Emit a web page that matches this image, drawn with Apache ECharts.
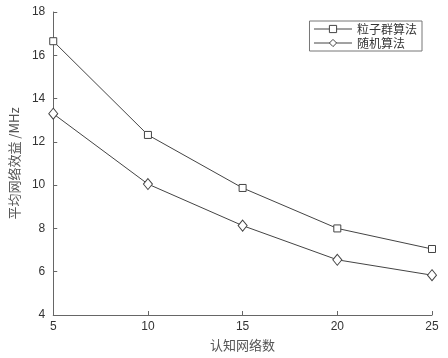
<!DOCTYPE html>
<html><head><meta charset="utf-8">
<script src="https://cdn.jsdelivr.net/npm/echarts@6/dist/echarts.min.js"></script>
<style>html,body{margin:0;padding:0;background:#fff}#c{width:448px;height:358px}</style>
</head><body><div id="c"></div>
<script>
var categories = [5, 10, 15, 20, 25];
var psoValues = [16.65, 12.32, 9.87, 8.0, 7.05];
var randomValues = [13.3, 10.05, 8.13, 6.55, 5.84];
var seriesNames = ['粒子群算法', '随机算法'];
var xAxisName = '认知网络数';
var yAxisName = '平均网络效益 /MHz';

var chart = echarts.init(document.getElementById('c'));
var lineColor = '#444';
var axisColor = '#666';
var cjk = '"Noto Sans CJK SC", sans-serif';
chart.setOption({
  animation: false,
  backgroundColor: '#fff',
  grid: { left: 46, right: 16, top: 12, bottom: 43 },
  legend: {
    orient: 'vertical', right: 26, top: 21,
    borderColor: '#777', borderWidth: 1, padding: [2, 5, 2, 4],
    itemGap: 2, itemWidth: 38, itemHeight: 9,
    textStyle: { fontFamily: cjk, fontSize: 12, color: '#333' },
    itemStyle: { color: '#fff', borderColor: lineColor, borderWidth: 1 },
    lineStyle: { color: lineColor, width: 1 },
    data: seriesNames
  },
  xAxis: {
    type: 'value', min: 5, max: 25, interval: 5,
    name: xAxisName, nameLocation: 'middle', nameGap: 24,
    nameTextStyle: { fontFamily: cjk, fontSize: 13, color: '#555' },
    axisLine: { lineStyle: { color: axisColor, width: 1 } },
    axisTick: { inside: true, length: 4, lineStyle: { color: axisColor } },
    axisLabel: { fontFamily: 'Liberation Sans', fontSize: 12, color: '#333', margin: 6 },
    splitLine: { show: false }
  },
  yAxis: {
    type: 'value', min: 4, max: 18, interval: 2,
    name: yAxisName, nameLocation: 'middle', nameGap: 30, nameRotate: 90,
    nameTextStyle: { fontFamily: cjk, fontSize: 13, color: '#555' },
    axisLine: { show: true, lineStyle: { color: axisColor, width: 1 } },
    axisTick: { show: true, inside: true, length: 4, lineStyle: { color: axisColor } },
    axisLabel: { fontFamily: 'Liberation Sans', fontSize: 12, color: '#333', margin: 8 },
    splitLine: { show: false }
  },
  series: [
    {
      name: seriesNames[0], type: 'line',
      data: categories.map(function (x, i) { return [x, psoValues[i]]; }),
      symbol: 'rect', symbolSize: 7, showAllSymbol: true,
      lineStyle: { color: lineColor, width: 1 },
      itemStyle: { color: '#fff', borderColor: lineColor, borderWidth: 1 }
    },
    {
      name: seriesNames[1], type: 'line',
      data: categories.map(function (x, i) { return [x, randomValues[i]]; }),
      symbol: 'diamond', symbolSize: [9, 11], showAllSymbol: true,
      lineStyle: { color: lineColor, width: 1 },
      itemStyle: { color: '#fff', borderColor: lineColor, borderWidth: 1 }
    }
  ]
});
</script></body></html>
